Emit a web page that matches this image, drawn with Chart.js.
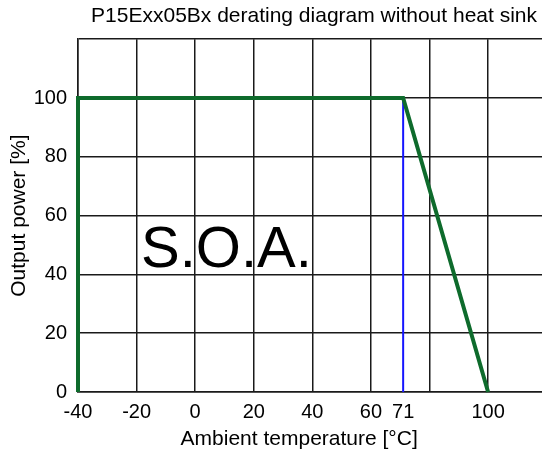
<!DOCTYPE html>
<html>
<head>
<meta charset="utf-8">
<script src="https://cdn.jsdelivr.net/npm/chart.js@4/dist/chart.umd.min.js"></script>
<style>
  html, body { margin: 0; padding: 0; background: #fff; }
  canvas { display: block; }
</style>
</head>
<body>
<canvas id="derating" width="542" height="454"></canvas>
<script>
// derating curve (ambient temperature -> output power)
var tempC = [-40, -40, 71, 100];
var powerPct = [0, 100, 100, 0];
// marker line at the derating knee
var kneeTemp = [71, 71];
var kneePower = [0, 100];

var xTicks = [-40, -20, 0, 20, 40, 60, 71, 80, 100];
var xLabels = [-40, -20, 0, 20, 40, 60, 71, 100];
var yTicks = [0, 20, 40, 60, 80, 100, 120];
var yLabels = [0, 20, 40, 60, 80, 100];

var FONT = '"Liberation Sans", Arial, sans-serif';
var gridColor = '#1a1a1a';

function toXY(xs, ys) {
    return xs.map(function(x, i) { return { x: x, y: ys[i] }; });
}

// text that the chart needs beyond the built-in parts
var extraText = {
    id: 'extraText',
    afterLayout: function(chart) {
        // title ends a little before the right edge
        chart.titleBlock.right = chart.width - 5;
    },
    afterDraw: function(chart) {
        var ctx = chart.ctx;
        var xs = chart.scales.x, ys = chart.scales.y;
        ctx.save();
        ctx.fillStyle = '#000';
        ctx.font = '58px ' + FONT;
        ctx.textAlign = 'left';
        ctx.textBaseline = 'alphabetic';
        ctx.fillText('S.O.A.', xs.getPixelForValue(-18.5), ys.getPixelForValue(42.5));
        ctx.font = '21px ' + FONT;
        ctx.textAlign = 'center';
        ctx.textBaseline = 'middle';
        ctx.fillText('Ambient temperature [°C]', xs.getPixelForValue(35.5), 439);
        ctx.restore();
    }
};

var ctx = document.getElementById('derating').getContext('2d');

var data = {
    datasets: [{
        data: toXY(tempC, powerPct),
        borderColor: '#0e6b2c',
        borderWidth: 4,
        pointRadius: 0,
        tension: 0,
        fill: false,
        clip: false
    }, {
        data: toXY(kneeTemp, kneePower),
        borderColor: '#1515ff',
        borderWidth: 2,
        pointRadius: 0,
        fill: false
    }]
};

var options = {
    responsive: false,
    animation: false,
    layout: { padding: 0 },
    scales: {
        x: {
            type: 'linear',
            min: -40,
            max: 118.4,
            afterBuildTicks: function(scale) {
                scale.ticks = xTicks.map(function(v) { return { value: v }; });
            },
            afterFit: function(scale) { scale.height = 62; },
            ticks: {
                padding: 8,
                color: '#000',
                font: { family: FONT, size: 20 },
                maxRotation: 0,
                autoSkip: false,
                callback: function(value) {
                    return xLabels.indexOf(value) >= 0 ? String(value) : '';
                }
            },
            grid: {
                drawTicks: false,
                lineWidth: 1.5,
                color: function(c) {
                    return c.tick && c.tick.value === 71 ? 'rgba(0,0,0,0)' : gridColor;
                }
            },
            border: { color: gridColor, width: 1.5 },
            title: { display: false }
        },
        y: {
            min: 0,
            max: 120,
            afterBuildTicks: function(scale) {
                scale.ticks = yTicks.map(function(v) { return { value: v }; });
            },
            afterFit: function(scale) { scale.width = 78; },
            ticks: {
                padding: 11,
                color: '#000',
                font: { family: FONT, size: 20 },
                callback: function(value) {
                    return yLabels.indexOf(value) >= 0 ? String(value) : '';
                }
            },
            grid: {
                drawTicks: false,
                lineWidth: 1.5,
                color: gridColor
            },
            border: { color: gridColor, width: 1.5 },
            title: {
                display: true,
                text: 'Output power [%]',
                color: '#000',
                font: { family: FONT, size: 21 },
                padding: { top: 7, bottom: 0 }
            }
        }
    },
    plugins: {
        legend: false,
        tooltip: { enabled: false },
        title: {
            display: true,
            text: 'P15Exx05Bx derating diagram without heat sink',
            align: 'end',
            color: '#000',
            font: { family: FONT, size: 21, weight: 'normal' },
            padding: { top: 4, bottom: 10 }
        }
    }
};

var derating = new Chart(ctx, {
    type: 'line',
    data: data,
    options: options,
    plugins: [extraText]
});
</script>
</body>
</html>
